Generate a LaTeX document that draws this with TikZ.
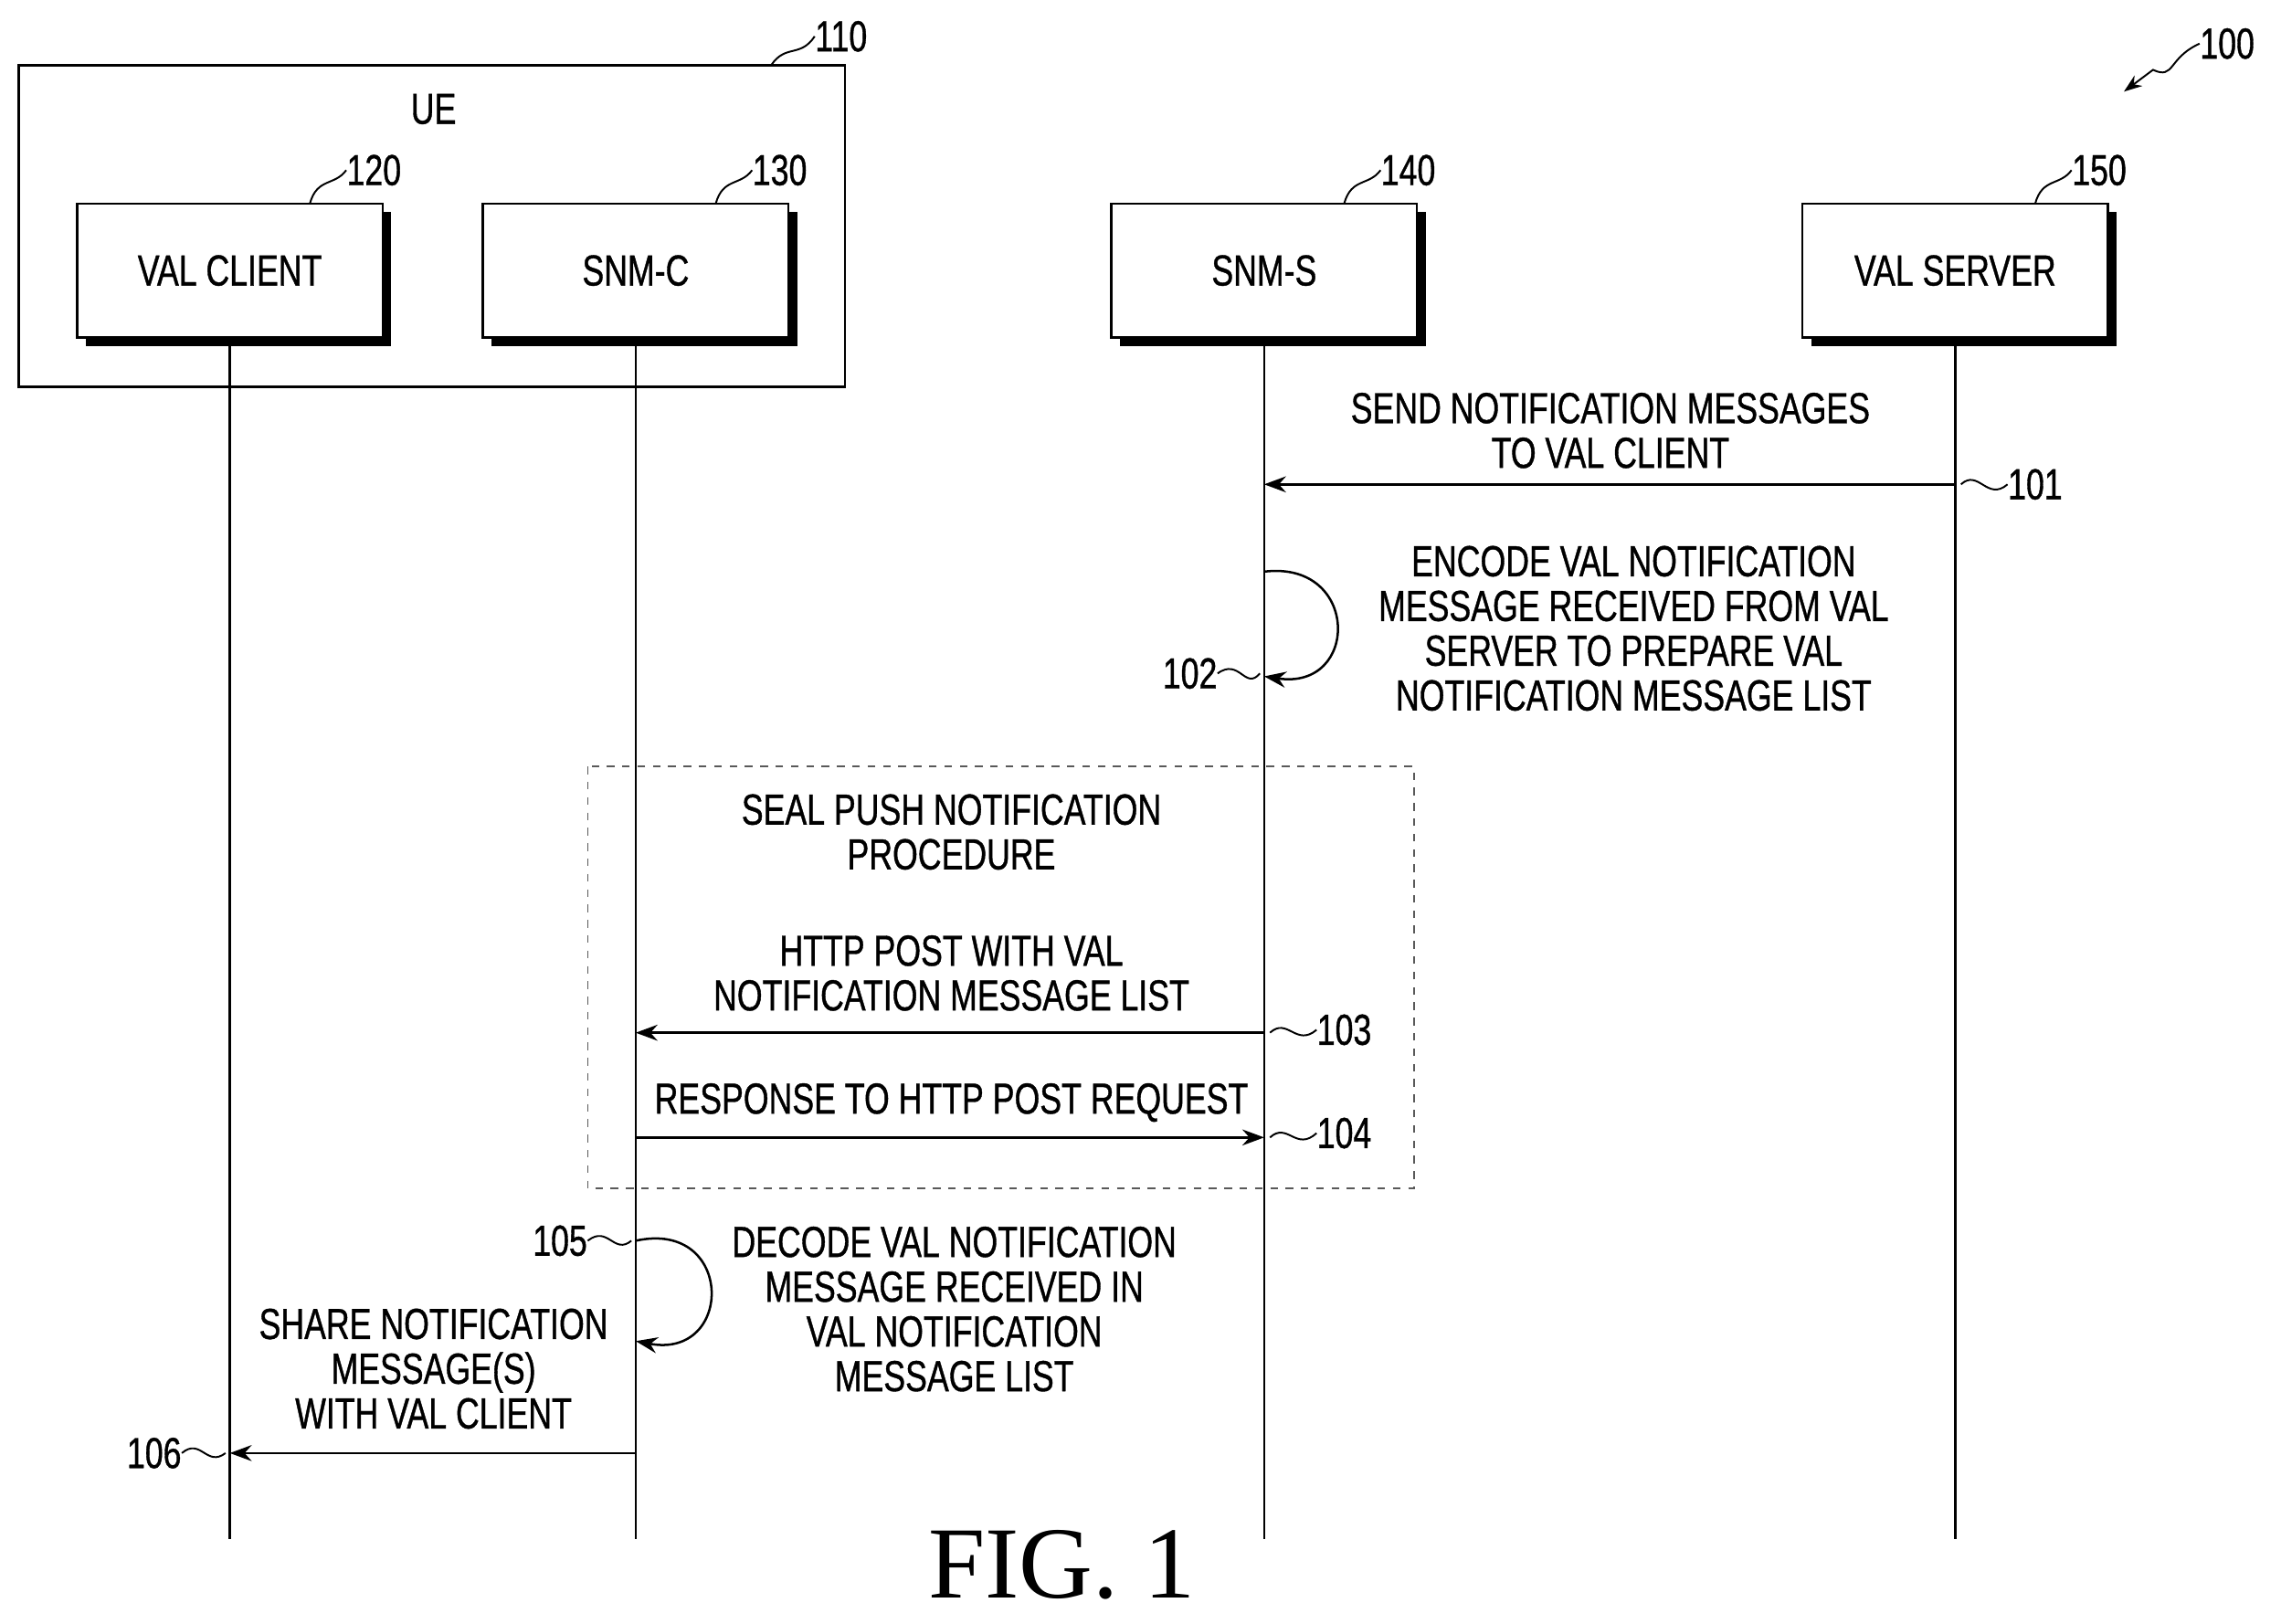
\documentclass[tikz,border=0pt]{standalone}
\usepackage{fontspec}
\setmainfont{Liberation Sans}[FakeStretch=0.75,FakeBold=0.8]
\newfontfamily\figfont{Liberation Serif}
\usetikzlibrary{arrows.meta}
\begin{document}
\begin{tikzpicture}[x=0.2mm,y=-0.2mm,
  txt/.style={font=\fontsize{17}{17.5}\selectfont,align=center,inner sep=0pt},
  box/.style={draw,line width=0.9pt,fill=white,minimum width=42mm,minimum height=18.4mm,txt},
  life/.style={line width=0.9pt},
  msg/.style={line width=0.9pt,-{Stealth[length=3mm,width=2.2mm]}},
  sq/.style={line width=0.7pt}]
\useasboundingbox (0,0) rectangle (1568,1116);
% UE
\draw[line width=0.9pt] (13,45) rectangle (581,266);
\node[txt] (ue) at (298,75) {UE};
\node[txt,anchor=west] (l110) at (560,25) {110};
\coordinate (c110) at (530,45);
\draw[sq] (c110) .. controls (540,30) and (550,40) .. (l110.west);
% boxes
\foreach \n/\x/\t/\r in {vc/158/VAL CLIENT/120, sc/437/SNM-C/130, ss/869/SNM-S/140, vs/1344/VAL SERVER/150}{
  \fill (\x-99,146) rectangle (\x+111,238);
  \node[box] (\n) at (\x,186) {\t};
  \node[txt,anchor=west] (r\n) at (\x+80,117) {\r};
  \draw[sq] (\x+55,140) .. controls (\x+60,122) and (\x+72,128) .. (r\n.west);
  \coordinate (e\n) at (\x,1058);
  \draw[life] (\n.south) -- (e\n);
}
% 100
\node[txt,anchor=west] (l100) at (1512,30) {100};
\coordinate (a100) at (1460,63);
\draw[sq,-{Stealth[length=2.5mm,width=1.8mm]}] (l100.west) .. controls (1490,40) and (1495,55) .. (1480,48) -- (a100);
% 101
\coordinate (s101) at (1344,333); \coordinate (t101) at (869,333);
\draw[msg] (s101) -- (t101);
\node[txt] (m101) at (1107,296) {SEND NOTIFICATION MESSAGES\\TO VAL CLIENT};
\node[txt,anchor=west] (l101) at (1380,333) {101};
\draw[sq] (1348,333) .. controls (1360,322) and (1366,345) .. (l101.west);
% 102
\coordinate (a102) at (869,393); \coordinate (b102) at (869,465);
\draw[msg] (a102) .. controls (935,385) and (935,475) .. (b102);
\node[txt] (m102) at (1123,432) {ENCODE VAL NOTIFICATION\\MESSAGE RECEIVED FROM VAL\\SERVER TO PREPARE VAL\\NOTIFICATION MESSAGE LIST};
\node[txt,anchor=east] (l102) at (837,463) {102};
\draw[sq] (l102.east) .. controls (852,452) and (856,475) .. (866,463);
% dashed
\draw[dashed,line width=0.6pt,gray!70!black] (404,527) rectangle (972,817);
\node[txt] (seal) at (654,572) {SEAL PUSH NOTIFICATION\\PROCEDURE};
% 103
\coordinate (s103) at (869,710); \coordinate (t103) at (437,710);
\draw[msg] (s103) -- (t103);
\node[txt] (m103) at (654,669) {HTTP POST WITH VAL\\NOTIFICATION MESSAGE LIST};
\node[txt,anchor=west] (l103) at (905,708) {103};
\draw[sq] (873,710) .. controls (885,699) and (891,720) .. (l103.west);
% 104
\coordinate (s104) at (437,782); \coordinate (t104) at (869,782);
\draw[msg] (s104) -- (t104);
\node[txt] (m104) at (654,758) {RESPONSE TO HTTP POST REQUEST};
\node[txt,anchor=west] (l104) at (905,779) {104};
\draw[sq] (873,782) .. controls (885,771) and (891,792) .. (l104.west);
% 105
\coordinate (a105) at (437,853); \coordinate (b105) at (437,922);
\draw[msg] (a105) .. controls (505,838) and (505,935) .. (b105);
\node[txt] (m105) at (656,900) {DECODE VAL NOTIFICATION\\MESSAGE RECEIVED IN\\VAL NOTIFICATION\\MESSAGE LIST};
\node[txt,anchor=east] (l105) at (404,853) {105};
\draw[sq] (l105.east) .. controls (418,842) and (422,863) .. (434,853);
% 106
\coordinate (s106) at (437,999); \coordinate (t106) at (158,999);
\draw[msg] (s106) -- (t106);
\node[txt] (m106) at (298,941) {SHARE NOTIFICATION\\MESSAGE(S)\\WITH VAL CLIENT};
\node[txt,anchor=east] (l106) at (125,999) {106};
\draw[sq] (l106.east) .. controls (138,988) and (142,1009) .. (155,999);
% fig
\node[font=\figfont\fontsize{40}{40}\selectfont,inner sep=0pt] (fig) at (730,1076) {FIG. 1};
\end{tikzpicture}
\end{document}
